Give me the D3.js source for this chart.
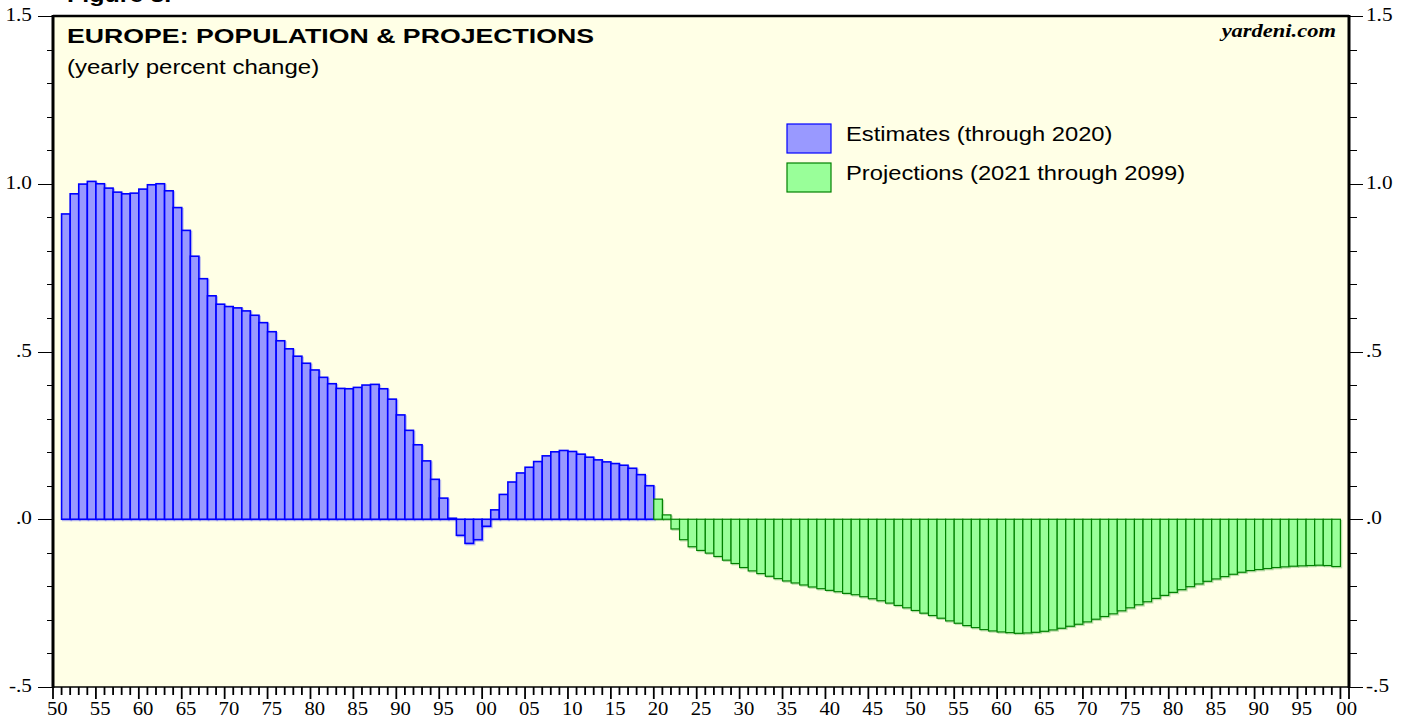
<!DOCTYPE html>
<html>
<head>
<meta charset="utf-8">
<script src="https://cdn.jsdelivr.net/npm/d3@7"></script>
<style>
  body { margin: 0; background: #fff; }
  svg text { font-family: Arial, "Liberation Sans", sans-serif; }
  .tick-lbl { font-family: "Times New Roman", "Liberation Serif", serif; font-size: 18px; fill: #000; }
</style>
</head>
<body>
<div id="chart"></div>
<script>
// population growth, yearly % change
const estStart = 1951;
const estimates = [
  0.910, 0.970, 0.999, 1.007, 1.000, 0.987, 0.975, 0.970, 0.972,
  0.984, 0.997, 1.000, 0.979, 0.929, 0.861, 0.784, 0.717, 0.666, 0.641,
  0.634, 0.630, 0.621, 0.608, 0.586, 0.559, 0.532, 0.508, 0.486, 0.465,
  0.445, 0.423, 0.404, 0.390, 0.389, 0.393, 0.400, 0.402, 0.389, 0.358,
  0.311, 0.265, 0.222, 0.174, 0.119, 0.063, 0.003, -0.048, -0.072, -0.061,
  -0.021, 0.028, 0.074, 0.111, 0.138, 0.155, 0.172, 0.189, 0.201, 0.205,
  0.202, 0.194, 0.185, 0.177, 0.171, 0.166, 0.161, 0.152, 0.133, 0.100
];
const projStart = 2020;
const projections = [
  0.060, 0.013, -0.029, -0.061, -0.082, -0.093, -0.101, -0.111, -0.122, -0.132,
  -0.144, -0.154, -0.162, -0.170, -0.177, -0.184, -0.190, -0.196, -0.202, -0.207,
  -0.212, -0.216, -0.221, -0.225, -0.231, -0.237, -0.243, -0.250, -0.257, -0.264,
  -0.272, -0.280, -0.287, -0.295, -0.303, -0.310, -0.317, -0.323, -0.329, -0.333,
  -0.336, -0.338, -0.340, -0.339, -0.337, -0.334, -0.330, -0.325, -0.319, -0.313,
  -0.306, -0.298, -0.290, -0.282, -0.273, -0.264, -0.255, -0.246, -0.236, -0.227,
  -0.218, -0.210, -0.201, -0.193, -0.185, -0.178, -0.171, -0.164, -0.158, -0.153,
  -0.150, -0.147, -0.144, -0.142, -0.140, -0.139, -0.138, -0.137, -0.138, -0.141
];
const yMajor = [-0.5, 0, 0.5, 1.0, 1.5];
const yMajorLabels = ['-.5', '.0', '.5', '1.0', '1.5'];
const legendLabels = ['Estimates (through 2020)', 'Projections (2021 through 2099)'];

const W = 1414, H = 719;
const box = { left: 53, right: 1349, top: 16, bottom: 687 };

const svg = d3.select('#chart').append('svg')
  .attr('width', W).attr('height', H);

// the source image is a bit wider than tall, so stretch text horizontally
function stretch(sel, f) {
  sel.each(function() {
    const w = this.getComputedTextLength();
    d3.select(this).attr('textLength', w * f).attr('lengthAdjust', 'spacingAndGlyphs');
  });
  return sel;
}

const years = d3.range(1950, 2101);
const x = d3.scaleBand().domain(years).range([box.left, box.right]).padding(0);
const y = d3.scaleLinear().domain([-0.5, 1.5]).range([box.bottom, box.top]);

// partially cut heading at the very top
stretch(svg.append('text')
  .attr('x', 67).attr('y', 2)
  .attr('font-weight', 'bold').attr('font-size', 20)
  .text('Figure 3.'), 1.25);

// plot background
svg.append('rect')
  .attr('x', box.left).attr('y', box.top)
  .attr('width', box.right - box.left).attr('height', box.bottom - box.top)
  .attr('fill', '#FFFFE6');

const series = [
  { vals: estimates, start: estStart, fill: '#9999FF', stroke: '#0000FF', sw: 1.6 },
  { vals: projections, start: projStart, fill: '#99FF99', stroke: '#008000', sw: 1.2 }
];

series.forEach(s => {
  const data = s.vals.map((v, i) => ({ year: s.start + i, v }));
  const g = svg.append('g');
  // soft shadow
  g.selectAll('rect.sh')
    .data(data).enter().append('rect')
      .attr('class', 'sh')
      .attr('x', d => x(d.year) + 1.2)
      .attr('y', d => Math.min(y(d.v), y(0)) + 1.2)
      .attr('width', x.bandwidth())
      .attr('height', d => Math.abs(y(d.v) - y(0)))
      .attr('fill', 'none')
      .attr('stroke', s.stroke)
      .attr('stroke-opacity', 0.25)
      .attr('stroke-width', s.sw);
  g.selectAll('rect.bar')
    .data(data).enter().append('rect')
      .attr('class', 'bar')
      .attr('x', d => x(d.year))
      .attr('y', d => Math.min(y(d.v), y(0)))
      .attr('width', x.bandwidth())
      .attr('height', d => Math.abs(y(d.v) - y(0)))
      .attr('fill', s.fill)
      .attr('stroke', s.stroke)
      .attr('stroke-width', s.sw);
});

// frame
svg.append('line').attr('x1', box.left).attr('x2', box.right)
  .attr('y1', box.top).attr('y2', box.top).attr('stroke', '#000').attr('stroke-width', 2.5);
svg.append('line').attr('x1', box.left).attr('x2', box.right)
  .attr('y1', box.bottom).attr('y2', box.bottom).attr('stroke', '#000').attr('stroke-width', 1.5);
[box.left, box.right].forEach(xx => {
  svg.append('line').attr('x1', xx).attr('x2', xx)
    .attr('y1', box.top - 1).attr('y2', box.bottom + 1)
    .attr('stroke', '#000').attr('stroke-width', 3);
});

// y ticks, both sides
const yMinor = d3.range(-5, 16).map(k => k / 10);
const tg = svg.append('g').attr('stroke', '#000').attr('stroke-width', 1);
yMinor.forEach(v => {
  const major = yMajor.some(m => Math.abs(m - v) < 1e-9);
  const yy = Math.round(y(v)) + 0.5;
  tg.append('line').attr('x1', box.left - (major ? 15 : 6)).attr('x2', box.left)
    .attr('y1', yy).attr('y2', yy);
  tg.append('line').attr('x1', box.right).attr('x2', box.right + (major ? 14 : 8))
    .attr('y1', yy).attr('y2', yy);
});
yMajor.forEach((v, i) => {
  stretch(svg.append('text').attr('class', 'tick-lbl')
    .attr('x', 32).attr('y', y(v) + 5).attr('text-anchor', 'end')
    .text(yMajorLabels[i]), 1.18);
  stretch(svg.append('text').attr('class', 'tick-lbl')
    .attr('x', 1366).attr('y', y(v) + 5).attr('text-anchor', 'start')
    .text(yMajorLabels[i]), 1.18);
});

// x ticks: one per year, longer every 5 years
years.forEach(yr => {
  const xx = x(yr);
  const long = yr % 5 === 0;
  tg.append('line').attr('x1', xx).attr('x2', xx)
    .attr('y1', box.bottom).attr('y2', box.bottom + (long ? 12 : 8))
    .attr('stroke-width', 1.8);
});
tg.append('line').attr('x1', box.right).attr('x2', box.right)
  .attr('y1', box.bottom).attr('y2', box.bottom + 12).attr('stroke-width', 1.8);
years.filter(yr => yr % 5 === 0).forEach(yr => {
  stretch(svg.append('text').attr('class', 'tick-lbl')
    .attr('x', x(yr) + x.bandwidth() / 2 + (yr === 2100 ? 2 : 0))
    .attr('y', 715).attr('text-anchor', 'middle')
    .text(String(yr % 100).padStart(2, '0')), 1.15);
});

// titles
stretch(svg.append('text').attr('x', 67).attr('y', 43)
  .attr('font-weight', 'bold').attr('font-size', 21)
  .text('EUROPE: POPULATION & PROJECTIONS'), 1.27);
stretch(svg.append('text').attr('x', 67).attr('y', 74)
  .attr('font-size', 20)
  .text('(yearly percent change)'), 1.2);
stretch(svg.append('text').attr('x', 1336).attr('y', 37)
  .attr('text-anchor', 'end')
  .style('font-family', '"Times New Roman", "Liberation Serif", serif')
  .attr('font-weight', 'bold').attr('font-style', 'italic').attr('font-size', 18)
  .text('yardeni.com'), 1.25);

// legend
const leg = svg.append('g');
series.forEach((s, i) => {
  const ly = 124 + i * 39;
  leg.append('rect').attr('x', 787).attr('y', ly)
    .attr('width', 44).attr('height', 29)
    .attr('fill', s.fill).attr('stroke', s.stroke).attr('stroke-width', 1.2);
  stretch(leg.append('text').attr('x', 846).attr('y', ly + 17)
    .attr('font-size', 21)
    .text(legendLabels[i]), 1.13);
});
</script>
</body>
</html>
